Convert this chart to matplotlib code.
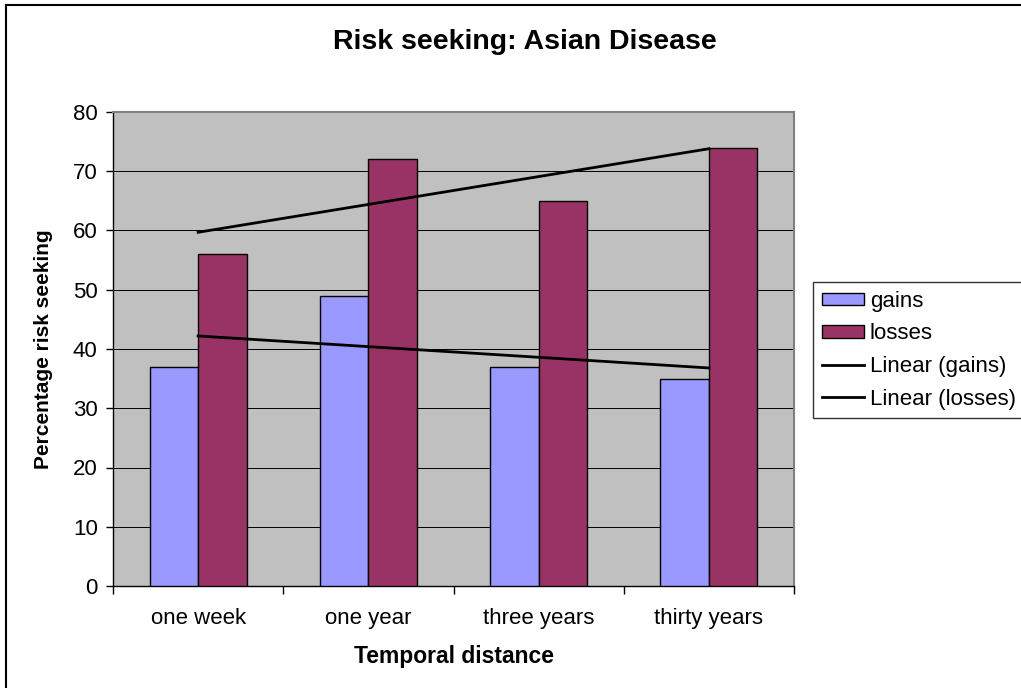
import matplotlib
matplotlib.use("Agg")
import matplotlib.pyplot as plt
from matplotlib.patches import Patch
from matplotlib.lines import Line2D
import numpy as np

plt.rcParams['font.family'] = ['Liberation Sans', 'DejaVu Sans']

# datos
categorias = ["one week", "one year", "three years", "thirty years"]
gains = [37, 49, 37, 35]
losses = [56, 72, 65, 74]
y_ticks = [0, 10, 20, 30, 40, 50, 60, 70, 80]

color_gains = "#9999FF"
color_losses = "#993366"

fig = plt.figure(figsize=(10.21, 6.88), dpi=100)
ax = fig.add_axes([113 / 1021, 1 - 586 / 688, 681 / 1021, 474 / 688])
ax.set_facecolor("#C0C0C0")

x = np.arange(1, len(categorias) + 1)
ancho = 0.285
ax.bar(x - ancho / 2, gains, ancho, color=color_gains, edgecolor="black", linewidth=1.0, zorder=3)
ax.bar(x + ancho / 2, losses, ancho, color=color_losses, edgecolor="black", linewidth=1.0, zorder=3)

# lineas de tendencia lineales
for serie in (gains, losses):
    m, b = np.polyfit(x, serie, 1)
    ax.plot([x[0], x[-1]], [m * x[0] + b, m * x[-1] + b], color="black", linewidth=2.0, zorder=4)

ax.set_xlim(0.5, len(categorias) + 0.5)
ax.set_ylim(0, 80)
ax.set_yticks(y_ticks)
ax.yaxis.grid(True, color="black", linewidth=0.7, zorder=0)
ax.set_axisbelow(True)

# ticks en los limites de las categorias
ax.set_xticks(np.arange(0.5, len(categorias) + 1, 1))
ax.set_xticklabels([])
ax.set_xticks(x, minor=True)
ax.set_xticklabels(categorias, minor=True, fontsize=16)
ax.tick_params(axis="x", which="minor", length=0, pad=16)
ax.tick_params(axis="x", which="major", length=6, width=1, direction="out")
ax.tick_params(axis="y", length=5, width=1, direction="out", labelsize=16, pad=6)

for lado in ("top", "right"):
    ax.spines[lado].set_color("#808080")
    ax.spines[lado].set_linewidth(1.5)
for lado in ("left", "bottom"):
    ax.spines[lado].set_color("black")
    ax.spines[lado].set_linewidth(1.0)

ax.set_ylabel("Percentage risk seeking", fontsize=15, fontweight="bold", labelpad=14)
ax.set_xlabel("Temporal distance", fontsize=16.5, fontweight="bold", labelpad=11)
fig.text(525 / 1021, 1 - 42 / 688, "Risk seeking: Asian Disease", fontsize=20.5,
         fontweight="bold", ha="center", va="center")

# leyenda
handles = [
    Patch(facecolor=color_gains, edgecolor="black", linewidth=1.0),
    Patch(facecolor=color_losses, edgecolor="black", linewidth=1.0),
    Line2D([0], [0], color="black", linewidth=2.0),
    Line2D([0], [0], color="black", linewidth=2.0),
]
etiquetas = ["gains", "losses", "Linear (gains)", "Linear (losses)"]
leg = fig.legend(handles, etiquetas, loc="upper left", bbox_to_anchor=(813 / 1021, 1 - 282 / 688),
                 fontsize=16, frameon=True, fancybox=False, handlelength=1.9, handleheight=0.5,
                 handletextpad=0.25, labelspacing=0.52, borderpad=0.4, borderaxespad=0)
leg.get_frame().set_edgecolor("black")
leg.get_frame().set_linewidth(1.0)

# borde exterior
fig.add_artist(Line2D([6 / 1021, 6 / 1021], [0, 1 - 5 / 688], color="black", linewidth=1.5,
                      transform=fig.transFigure))
fig.add_artist(Line2D([6 / 1021, 1], [1 - 5 / 688, 1 - 5 / 688], color="black", linewidth=1.5,
                      transform=fig.transFigure))

fig.savefig("out.png", dpi=100)
